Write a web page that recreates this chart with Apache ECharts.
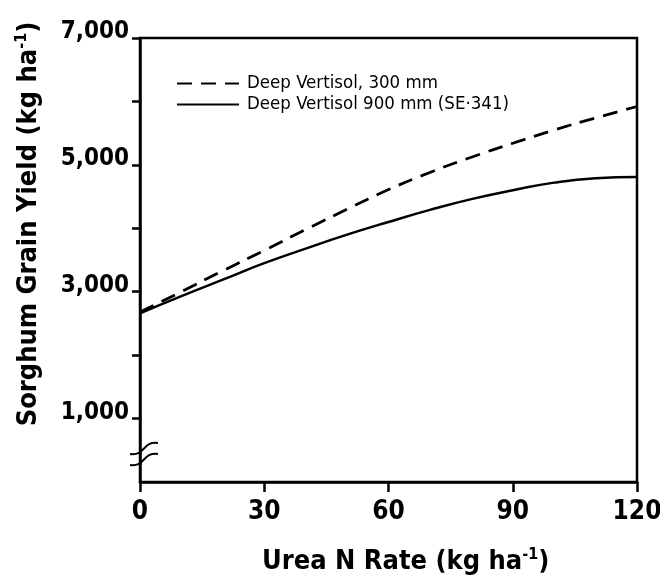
<!DOCTYPE html>
<html>
<head>
<meta charset="utf-8">
<script src="https://cdn.jsdelivr.net/npm/echarts@6/dist/echarts.min.js"></script>
<style>
  html, body { margin: 0; padding: 0; background: #fff; }
  #chart { width: 660px; height: 578px; }
</style>
</head>
<body>
<div id="chart"></div>
<script>
// N rate (kg/ha) and sorghum grain yield (kg/ha)
var nRates = [0, 10, 20, 30, 40, 50, 60, 70, 80, 90, 100, 110, 120];
var yield300 = [2680, 3000, 3330, 3650, 3980, 4300, 4610, 4880, 5120, 5340, 5550, 5740, 5920];
var yield900 = [2660, 2930, 3190, 3450, 3680, 3900, 4100, 4290, 4460, 4600, 4720, 4790, 4810];
var seriesNames = ['Deep Vertisol, 300 mm', 'Deep Vertisol 900 mm (SE·341)'];
var xTicks = [0, 30, 60, 90, 120];
var yTicks = [1000, 2000, 3000, 4000, 5000, 6000, 7000];
var yLabels = [1000, 3000, 5000, 7000];

var FONT = "'DejaVu Sans Condensed', 'Liberation Sans Narrow', sans-serif";

function pairs(xs, ys) {
  return xs.map(function (x, i) { return [x, ys[i]]; });
}
function thousands(v) {
  return String(v).replace(/\B(?=(\d{3})+(?!\d))/g, ',');
}

var titleRich = {
  b: { fontFamily: FONT, fontWeight: 'bold', fontSize: 27, lineHeight: 30, fill: '#000' },
  s: { fontFamily: FONT, fontWeight: 'bold', fontSize: 16, lineHeight: 30, verticalAlign: 'top', fill: '#000' }
};

var chart = echarts.init(document.getElementById('chart'));
chart.setOption({
  animation: false,
  backgroundColor: '#fff',
  grid: {
    left: 140, right: 23, top: 38, bottom: 96,
    outerBoundsMode: 'none',
    show: true, borderColor: '#000', borderWidth: 2.5
  },
  legend: {
    orient: 'vertical',
    left: 171, top: 69,
    itemWidth: 62, itemHeight: 14, itemGap: 2,
    itemStyle: { color: 'transparent', borderWidth: 0, opacity: 0 },
    textStyle: {
      fontFamily: FONT, fontSize: 18.5, color: '#000',
      padding: [0, 0, 0, 3]
    },
    data: seriesNames
  },
  xAxis: {
    type: 'value', min: 0, max: 120, interval: 30,
    axisLine: { lineStyle: { color: '#000', width: 2.5 } },
    axisTick: { length: 10, lineStyle: { color: '#000', width: 2.5 }, customValues: xTicks },
    axisLabel: {
      customValues: xTicks,
      fontFamily: FONT, fontWeight: 'bold', fontSize: 26, color: '#000',
      margin: 16, lineHeight: 28
    },
    splitLine: { show: false }
  },
  yAxis: {
    type: 'value', min: 0, max: 7000, interval: 1000,
    axisLine: { lineStyle: { color: '#000', width: 2.5 } },
    axisTick: { length: 8, lineStyle: { color: '#000', width: 2.5 }, customValues: yTicks },
    axisLabel: {
      customValues: yLabels,
      formatter: thousands,
      fontFamily: FONT, fontWeight: 'bold', fontSize: 24, color: '#000',
      margin: 11, verticalAlign: 'bottom', lineHeight: 12
    },
    splitLine: { show: false }
  },
  series: [
    {
      name: seriesNames[0], type: 'line', smooth: true, symbol: 'none',
      lineStyle: { color: '#000', width: 2.8, type: [15, 9] },
      itemStyle: { color: '#000' },
      data: pairs(nRates, yield300)
    },
    {
      name: seriesNames[1], type: 'line', smooth: true, symbol: 'none',
      lineStyle: { color: '#000', width: 2.5 },
      itemStyle: { color: '#000' },
      data: pairs(nRates, yield900)
    }
  ],
  graphic: [
    // axis titles with superscripts
    {
      type: 'text', left: 262, top: 547,
      style: { text: '{b|Urea N Rate (kg ha}{s|-1}{b|)}', rich: titleRich }
    },
    {
      type: 'text', x: 29, y: 224, rotation: Math.PI / 2,
      style: {
        text: '{b|Sorghum Grain Yield (kg ha}{s|-1}{b|)}',
        align: 'center', verticalAlign: 'middle', rich: titleRich
      }
    },
    // axis break marks
    {
      type: 'bezierCurve',
      shape: { x1: 130, y1: 454, cpx1: 146, cpy1: 456, cpx2: 142, cpy2: 441, x2: 158, y2: 443 },
      style: { stroke: '#000', lineWidth: 2, fill: 'none' }
    },
    {
      type: 'bezierCurve',
      shape: { x1: 130, y1: 465, cpx1: 146, cpy1: 467, cpx2: 142, cpy2: 452, x2: 158, y2: 454 },
      style: { stroke: '#000', lineWidth: 2, fill: 'none' }
    }
  ]
});
</script>
</body>
</html>
